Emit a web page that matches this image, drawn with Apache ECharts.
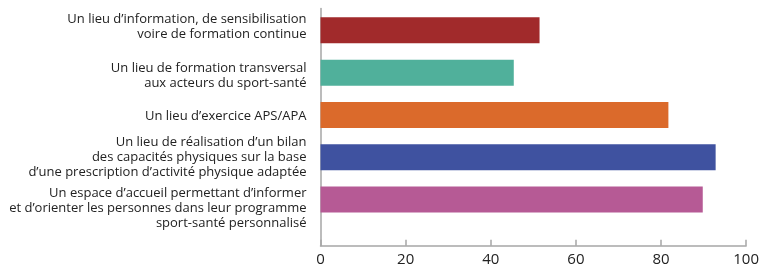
<!DOCTYPE html>
<html>
<head>
<meta charset="utf-8">
<script src="https://cdn.jsdelivr.net/npm/echarts@6/dist/echarts.min.js"></script>
<style>
  html, body { margin: 0; padding: 0; background: #fff; }
  #chart { width: 762px; height: 268px; }
</style>
</head>
<body>
<div id="chart"></div>
<script>
// libellés des catégories (de haut en bas)
const categories = [
  "Un lieu d\u2019information, de sensibilisation\nvoire de formation continue",
  "Un lieu de formation transversal\naux acteurs du sport-sant\u00e9",
  "Un lieu d\u2019exercice APS/APA",
  "Un lieu de r\u00e9alisation d\u2019un bilan\ndes capacit\u00e9s physiques sur la base\nd\u2019une prescription d\u2019activit\u00e9 physique adapt\u00e9e",
  "Un espace d\u2019accueil permettant d\u2019informer\net d\u2019orienter les personnes dans leur programme\nsport-sant\u00e9 personnalis\u00e9"
];
const values = [51, 45, 81, 92, 89];
const barColors = ['#A12A2B', '#50B09B', '#DB6A2B', '#3F52A0', '#B65A95'];
const xTicks = [0, 20, 40, 60, 80, 100];

const font = '"Open Sans", sans-serif';
const axisGray = '#a6a6a6';
// décalage vertical des libellés en px (+ = vers le bas) : les blocs ne sont pas centrés sur les barres
const labelShift = [-4, 3, 1, 0, 9];

// une ligne vide de hauteur 2*|décalage| ajoutée en haut ou en bas du bloc
const rich = {};
labelShift.forEach(s => {
  if (s !== 0) rich['sp' + Math.abs(s)] = { height: 2 * Math.abs(s), lineHeight: 2 * Math.abs(s), fontSize: 1 };
});
const lineStyle = { fontSize: 13, lineHeight: 15, color: '#222', fontFamily: font };
rich.t = lineStyle;

function labelText(value, index) {
  const s = labelShift[index];
  const body = value.split('\n').map(l => '{t|' + l + '}').join('\n');
  if (s > 0) return '{sp' + s + '| }\n' + body;
  if (s < 0) return body + '\n{sp' + (-s) + '| }';
  return body;
}

const chart = echarts.init(document.getElementById('chart'));

const option = {
  animation: false,
  textStyle: { fontFamily: font },
  grid: [
    // grille des barres
    { left: 320.5, right: 12, top: 9.2, height: 211.5 },
    // grille des axes (ligne verticale + axe des x)
    { left: 320.5, right: 12, top: 8.5, bottom: 22.3 }
  ],
  xAxis: [
    {
      gridIndex: 0, type: 'value', min: xTicks[0], max: xTicks[xTicks.length - 1], interval: 20,
      show: false
    },
    {
      gridIndex: 1, type: 'value', min: xTicks[0], max: xTicks[xTicks.length - 1], interval: 20,
      axisLine: { show: true, lineStyle: { color: axisGray, width: 1.5 } },
      axisTick: { show: true, inside: true, length: 6, lineStyle: { color: axisGray, width: 1.5 } },
      axisLabel: { color: '#222', fontSize: 15, margin: 7, fontFamily: font },
      splitLine: { show: false }
    }
  ],
  yAxis: [
    {
      gridIndex: 0, type: 'category', inverse: true,
      data: categories,
      axisLine: { show: false },
      axisTick: { show: false },
      axisLabel: {
        interval: 0,
        color: '#222', fontSize: 13, lineHeight: 15, margin: 14, align: 'right',
        fontFamily: font,
        formatter: labelText,
        rich: rich
      }
    },
    {
      gridIndex: 1, type: 'category', data: [''],
      axisLine: { show: true, lineStyle: { color: axisGray, width: 1.5 } },
      axisTick: { show: false },
      axisLabel: { show: false }
    }
  ],
  series: [
    {
      type: 'bar',
      xAxisIndex: 0, yAxisIndex: 0,
      barWidth: 26,
      data: values.map((v, i) => ({ value: v, itemStyle: { color: barColors[i] } }))
    }
  ]
};

chart.setOption(option);
</script>
</body>
</html>
